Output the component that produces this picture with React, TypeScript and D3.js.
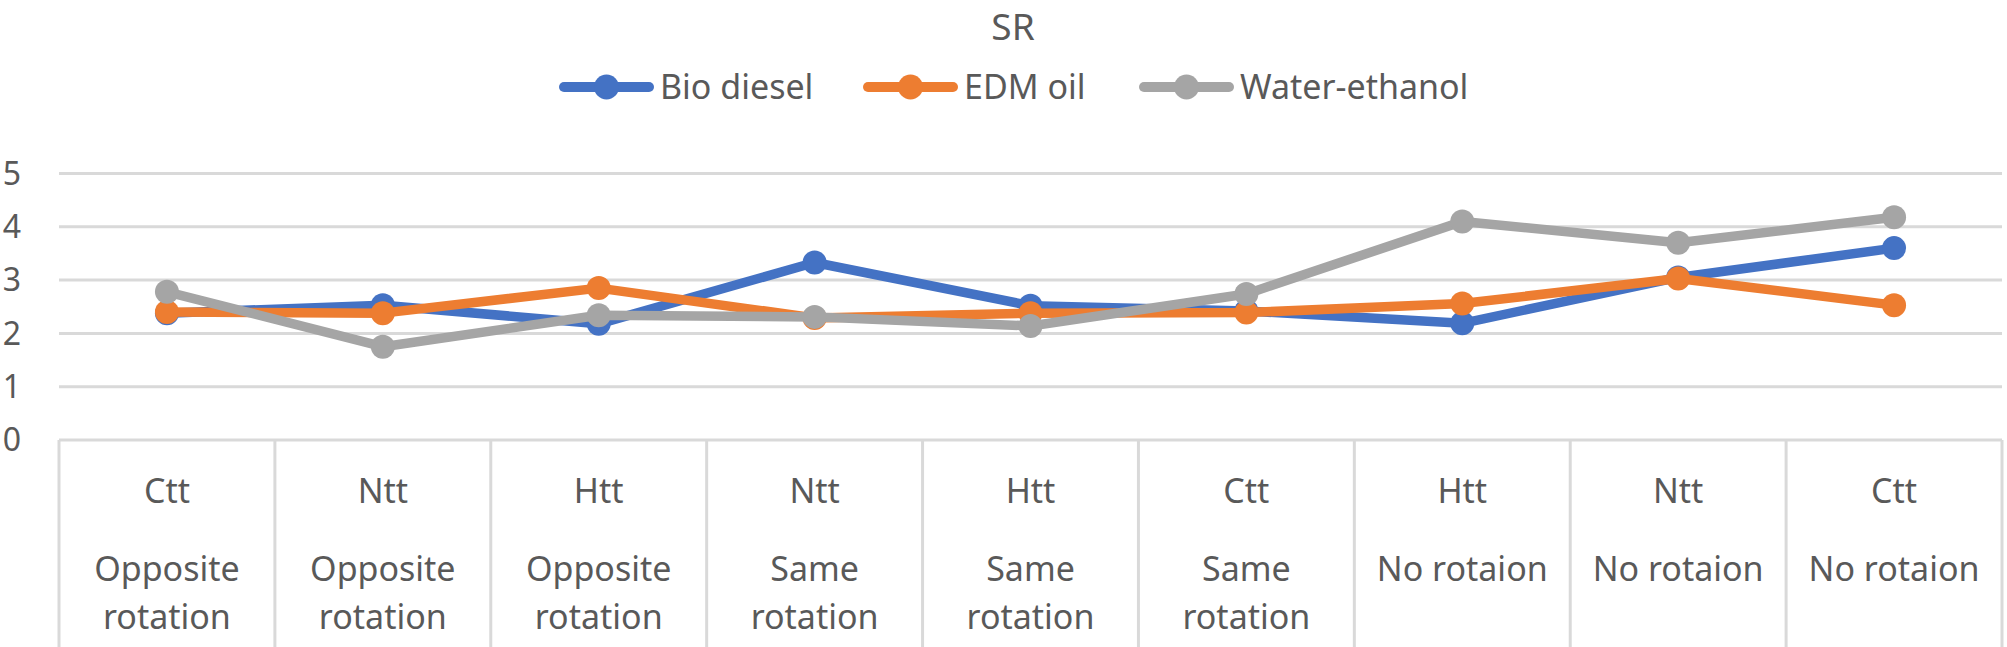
import React from "react";
import * as d3 from "d3";

const topLabels = ["Ctt", "Ntt", "Htt", "Ntt", "Htt", "Ctt", "Htt", "Ntt", "Ctt"];
const groupLabels = [
  ["Opposite", "rotation"],
  ["Opposite", "rotation"],
  ["Opposite", "rotation"],
  ["Same", "rotation"],
  ["Same", "rotation"],
  ["Same", "rotation"],
  ["No rotaion"],
  ["No rotaion"],
  ["No rotaion"],
];
const seriesNames = ["Bio diesel", "EDM oil", "Water-ethanol"];
const seriesColors = ["#4472C4", "#ED7D31", "#A5A5A5"];
const bioDiesel = [2.38, 2.53, 2.18, 3.33, 2.52, 2.42, 2.19, 3.05, 3.6];
const edmOil = [2.4, 2.38, 2.85, 2.29, 2.38, 2.39, 2.56, 3.03, 2.53];
const waterEthanol = [2.78, 1.75, 2.34, 2.31, 2.14, 2.74, 4.1, 3.7, 4.18];
const yTicks = [0, 1, 2, 3, 4, 5];

const W = 2007;
const H = 647;
const FONT = "'Noto Sans', 'Open Sans', sans-serif";
const TEXT = "#595959";
const GRID = "#D9D9D9";

export default function App() {
  const idx = d3.range(topLabels.length).map(String);
  const x = d3.scaleBand().domain(idx).range([59, 2002]).padding(0);
  const y = d3.scaleLinear().domain([0, 5]).range([440, 173.5]);
  const cx = (i: number) => (x(String(i)) as number) + x.bandwidth() / 2;
  const line = d3
    .line<number>()
    .x((_, i) => cx(i))
    .y((d) => y(d));
  const series = [bioDiesel, edmOil, waterEthanol];

  const legendX = [564, 868, 1144];
  const legendLen = 85;

  return (
    <svg
      width={W}
      height={H}
      style={{ position: "absolute", left: 0, top: 0, background: "#fff" }}
      fontFamily={FONT}
    >
      <rect x={0} y={0} width={W} height={H} fill="#fff" />
      <text x={1013} y={40} textAnchor="middle" fontSize={37} fill={TEXT}>
        SR
      </text>
      {seriesNames.map((n, k) => (
        <g key={n}>
          <line
            x1={legendX[k]}
            x2={legendX[k] + legendLen}
            y1={87}
            y2={87}
            stroke={seriesColors[k]}
            strokeWidth={10}
            strokeLinecap="round"
          />
          <circle cx={legendX[k] + legendLen / 2} cy={87} r={12.5} fill={seriesColors[k]} />
          <text x={legendX[k] + legendLen + 11} y={99} fontSize={34} fill={TEXT}>
            {n}
          </text>
        </g>
      ))}
      {yTicks.map((t) => (
        <g key={t}>
          {t > 0 && (
            <line x1={59} x2={2002} y1={y(t)} y2={y(t)} stroke={GRID} strokeWidth={3} />
          )}
          <text x={21} y={y(t)} dy="0.35em" textAnchor="end" fontSize={32} fill={TEXT}>
            {t}
          </text>
        </g>
      ))}
      <line x1={59} x2={2002} y1={y(0)} y2={y(0)} stroke={GRID} strokeWidth={3} />
      {d3.range(topLabels.length + 1).map((i) => {
        const xx = i < topLabels.length ? (x(String(i)) as number) : 2002;
        return <line key={i} x1={xx} x2={xx} y1={y(0)} y2={H} stroke={GRID} strokeWidth={3} />;
      })}
      {topLabels.map((l, i) => (
        <g key={i}>
          <text x={cx(i)} y={503} textAnchor="middle" fontSize={34} fill={TEXT}>
            {l}
          </text>
          {groupLabels[i].map((g, j) => (
            <text key={j} x={cx(i)} y={581 + j * 48} textAnchor="middle" fontSize={34} fill={TEXT}>
              {g}
            </text>
          ))}
        </g>
      ))}
      {series.map((s, k) => (
        <g key={k}>
          <path
            d={line(s) as string}
            fill="none"
            stroke={seriesColors[k]}
            strokeWidth={9.5}
            strokeLinejoin="round"
            strokeLinecap="round"
          />
          {s.map((v, i) => (
            <circle key={i} cx={cx(i)} cy={y(v)} r={12} fill={seriesColors[k]} />
          ))}
        </g>
      ))}
    </svg>
  );
}
